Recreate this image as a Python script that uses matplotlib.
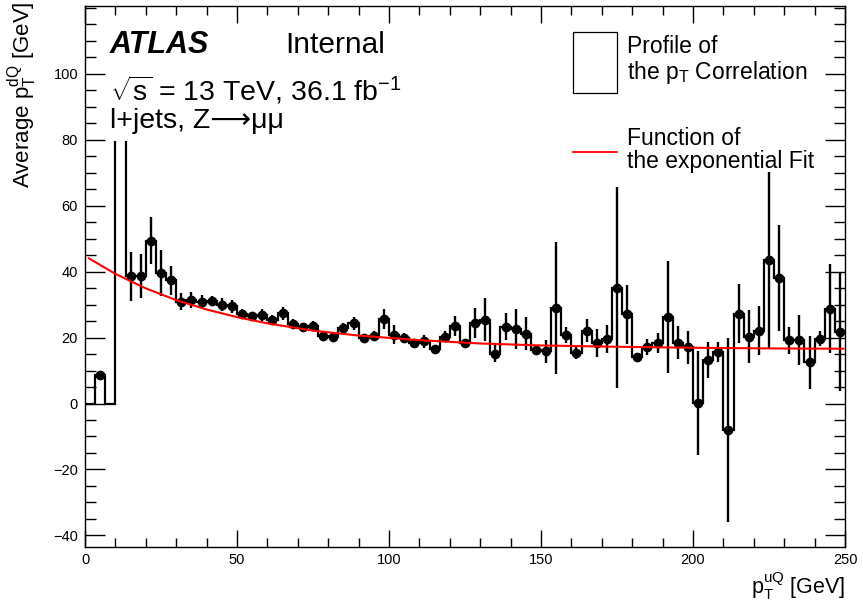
import numpy as np
import matplotlib.pyplot as plt
from matplotlib.patches import Rectangle
from matplotlib.lines import Line2D

plt.rcParams['font.family'] = ['Liberation Sans', 'DejaVu Sans']
plt.rcParams['mathtext.fontset'] = 'custom'
plt.rcParams['mathtext.rm'] = 'Liberation Sans'
plt.rcParams['mathtext.it'] = 'Liberation Sans:italic'
plt.rcParams['mathtext.bf'] = 'Liberation Sans:bold'

W, H = 863, 608

# profile binning: 75 bins of 10/3 GeV from 0 to 250
bin_edges = np.linspace(0, 250, 76)

# mean pT(dQ) per bin of pT(uQ)
profile_mean = [
    0.0, 8.5, 0.0, 125.0, 38.6, 38.6, 49.4, 39.5, 37.3, 30.9,
    31.4, 30.9, 31.2, 30.0, 29.5, 27.0, 26.4, 26.9, 25.4, 27.4,
    24.1, 23.1, 23.4, 20.5, 20.1, 22.8, 24.3, 19.9, 20.6, 25.7,
    20.9, 19.8, 18.4, 18.8, 16.4, 20.3, 23.4, 18.4, 24.3, 25.4,
    15.1, 23.3, 22.6, 21.1, 16.1, 15.8, 28.9, 20.8, 15.4, 22.1,
    18.3, 19.6, 35.1, 27.0, 14.2, 17.1, 18.4, 26.2, 18.4, 17.1,
    0.2, 13.2, 15.6, -8.0, 27.2, 20.3, 22.1, 43.5, 38.0, 19.1,
    19.3, 12.5, 19.6, 28.7, 21.8,
]
# error on the mean per bin
profile_err = [
    0.0, 0.5, 0.0, 0.0, 7.4, 6.6, 7.0, 7.0, 4.5, 2.5,
    2.5, 2.0, 1.5, 2.0, 2.0, 1.5, 1.2, 1.8, 1.5, 2.0,
    1.5, 1.2, 1.5, 1.0, 1.0, 1.5, 2.0, 1.2, 1.5, 3.0,
    3.0, 1.5, 1.2, 2.0, 1.2, 1.8, 3.0, 1.2, 4.5, 6.5,
    2.5, 4.0, 6.0, 5.0, 1.5, 3.5, 20.0, 2.5, 2.0, 3.5,
    4.2, 4.3, 30.5, 9.0, 1.0, 2.5, 3.0, 17.0, 5.0, 5.0,
    15.7, 5.5, 3.0, 27.8, 9.0, 8.0, 7.5, 26.6, 16.0, 4.0,
    7.5, 8.0, 2.3, 13.5, 18.0,
]
empty_bins = [0, 2]

# exponential fit, sampled along the drawn curve
fit_x = [1.3, 10, 20, 30, 40, 50, 60, 75, 90, 110, 130, 150, 175, 200, 225, 249.5]
fit_y = [44.0, 39.3, 34.9, 31.35, 28.5, 26.2, 24.3, 22.1, 20.6, 19.2, 18.2, 17.6,
         17.2, 16.9, 16.7, 16.6]


def fx(px):
    return px / W


def fy(py):
    return 1 - py / H


fig = plt.figure(figsize=(W / 100, H / 100), dpi=100)
ax = fig.add_axes([fx(85), fy(547), 760 / W, 541 / H])

centers = 0.5 * (bin_edges[:-1] + bin_edges[1:])
filled = [i for i in range(len(profile_mean)) if i not in empty_bins]
xc = centers[filled]
yc = np.array(profile_mean)[filled]
ye = np.array(profile_err)[filled]

ax.stairs(profile_mean, bin_edges, baseline=None, color='black', lw=1.6, zorder=1.2)
# white pave behind the ATLAS label
ax.add_patch(Rectangle((7.0, 79.5), 101, 45, facecolor='white', edgecolor='none', zorder=1.3))
ax.errorbar(xc, yc, yerr=ye, fmt='o', color='black', ms=6, elinewidth=1.7,
            capsize=0, zorder=3)
ax.plot(fit_x, fit_y, color='red', lw=1.5, zorder=4)

ax.set_xlim(0, 250)
ax.set_ylim(-43.5, 120.5)
ax.set_axisbelow('line')
ax.set_xticks(np.arange(0, 251, 50))
ax.set_xticks(np.arange(0, 251, 10), minor=True)
ax.set_yticks(np.arange(-40, 101, 20))
ax.set_yticks(np.arange(-40, 121, 5), minor=True)
ax.tick_params(axis='both', which='both', direction='in', top=True, right=True,
               width=1.0, labelsize=10.5)
ax.tick_params(axis='x', which='major', length=12, pad=4)
ax.tick_params(axis='x', which='minor', length=6.5)
ax.tick_params(axis='y', which='major', length=14.5, pad=5)
ax.tick_params(axis='y', which='minor', length=8)
for sp in ax.spines.values():
    sp.set_linewidth(1.0)

fig.text(fx(22), fy(1), r'Average $\mathrm{p}_\mathrm{T}^\mathrm{dQ}$ [GeV]',
         rotation=90, ha='center', va='top', fontsize=16)
fig.text(fx(845), fy(594), r'$\mathrm{p}_\mathrm{T}^\mathrm{uQ}$ [GeV]',
         ha='right', va='baseline', fontsize=15.5)

fig.text(fx(110), fy(53.3), 'ATLAS', fontsize=22, fontweight='bold', style='italic',
         va='baseline')
fig.text(fx(285), fy(53.3), 'Internal', fontsize=21.5, va='baseline')
fig.text(fx(110), fy(100), r'$\sqrt{\mathrm{s}}$ = 13 TeV, 36.1 fb$^{-1}$', fontsize=20.5,
         va='baseline')
fig.text(fx(110), fy(128.3), 'l+jets, Z\u27f6\u03bc\u03bc', fontsize=20.5, va='baseline')

# legend
fig.add_artist(Rectangle((fx(573), fy(93)), 44 / W, 61 / H, transform=fig.transFigure,
                         facecolor='white', edgecolor='black', lw=0.9))
fig.add_artist(Line2D([fx(573), fx(617)], [fy(152), fy(152)], transform=fig.transFigure,
                      color='red', lw=1.3))
fig.text(fx(627), fy(53.3), 'Profile of', fontsize=16.5, va='baseline')
fig.text(fx(627), fy(79.3), r'the $\mathrm{p}_\mathrm{T}$ Correlation', fontsize=16.5,
         va='baseline')
fig.text(fx(627), fy(145), 'Function of', fontsize=16.5, va='baseline')
fig.text(fx(627), fy(168.3), 'the exponential Fit', fontsize=16.5, va='baseline')

fig.savefig('out.png', dpi=100)
